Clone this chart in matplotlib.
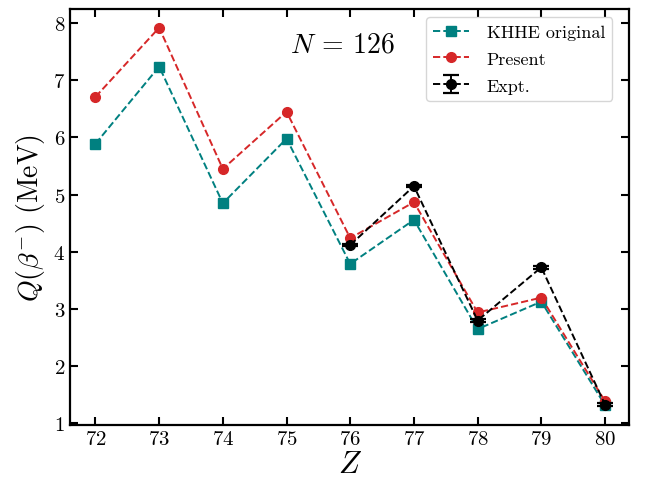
import matplotlib
matplotlib.use("Agg")
import matplotlib.pyplot as plt

plt.rcParams["font.family"] = "serif"
plt.rcParams["font.serif"] = ["cmr10"]
plt.rcParams["mathtext.fontset"] = "cm"
plt.rcParams["axes.formatter.use_mathtext"] = True

# Q(beta-) values for N = 126 isotones
z = [72, 73, 74, 75, 76, 77, 78, 79, 80]
q_khhe = [5.89, 7.24, 4.85, 5.98, 3.79, 4.56, 2.65, 3.13, 1.32]
q_present = [6.71, 7.92, 5.45, 6.45, 4.24, 4.87, 2.94, 3.20, 1.39]

z_expt = [76, 77, 78, 79, 80]
q_expt = [4.12, 5.15, 2.80, 3.73, 1.33]
q_expt_err = [0.02, 0.02, 0.02, 0.03, 0.02]

fig, ax = plt.subplots(figsize=(6.48, 4.81), dpi=100)
fig.subplots_adjust(left=0.108, right=0.971, top=0.979, bottom=0.114)

ax.plot(z, q_khhe, "--s", color="teal", ms=7, lw=1.4, label="KHHE original")
ax.plot(z, q_present, "--o", color="tab:red", ms=7, lw=1.4, label="Present")
ax.errorbar(z_expt, q_expt, yerr=q_expt_err, fmt="--o", color="black",
            ms=7, lw=1.4, capsize=6, capthick=1.6, label="Expt.")

ax.set_xlim(71.6, 80.38)
ax.set_ylim(0.97, 8.245)
ax.set_xticks(z)
ax.set_yticks(range(1, 9))

ax.set_xlabel(r"$Z$", fontsize=22, labelpad=2)
ax.set_ylabel(r"$Q(\beta^{-})$ (MeV)", fontsize=20)
ax.text(0.488, 0.915, r"$N$ = 126", transform=ax.transAxes, fontsize=20,
        ha="center", va="center")

ax.tick_params(direction="in", top=True, right=True, length=6, width=1.5,
               labelsize=15)
for spine in ax.spines.values():
    spine.set_linewidth(1.6)

ax.legend(loc="upper right", fontsize=13, bbox_to_anchor=(0.9696, 0.981),
          borderaxespad=0, labelspacing=0.62, handletextpad=0.95)

fig.savefig("out.png", dpi=100)
plt.close(fig)
